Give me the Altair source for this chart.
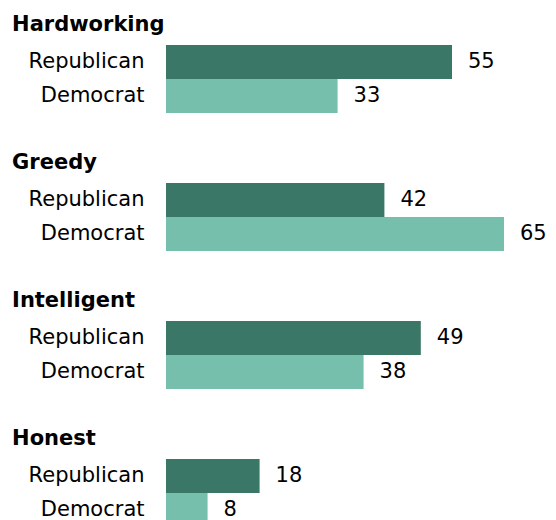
import altair as alt
import pandas as pd

traits = ["Hardworking", "Greedy", "Intelligent", "Honest"]
parties = ["Republican", "Democrat"]
republican = [55, 42, 49, 18]
democrat = [33, 65, 38, 8]
colors = ["#3a7767", "#76bfad"]

rows = []
for t, r, d in zip(traits, republican, democrat):
    rows.append({"trait": t, "party": "Republican", "value": r})
    rows.append({"trait": t, "party": "Democrat", "value": d})
df = pd.DataFrame(rows)

FS = 21
xscale = alt.Scale(domain=[0, 65], nice=False, zero=True)
yscale = alt.Scale(domain=parties, paddingInner=0, paddingOuter=0)
cscale = alt.Scale(domain=parties, range=colors)


def panel(t):
    base = alt.Chart(df).transform_filter(alt.datum.trait == t)
    bars = base.mark_bar().encode(
        x=alt.X("value:Q", scale=xscale, axis=None),
        y=alt.Y("party:N", scale=yscale, sort=parties,
                axis=alt.Axis(title=None, domain=False, ticks=False,
                              labelFontSize=FS, labelPadding=22,
                              labelColor="#000000", labelFont="DejaVu Sans")),
        color=alt.Color("party:N", scale=cscale, legend=None),
    )
    labels = base.mark_text(align="left", baseline="middle", dx=16,
                            fontSize=FS, font="DejaVu Sans", color="#000000").encode(
        x=alt.X("value:Q", scale=xscale),
        y=alt.Y("party:N", scale=yscale, sort=parties),
        text="value:Q",
    )
    return (bars + labels).properties(
        width=338, height=68,
        title=alt.TitleParams(t, anchor="start", frame="bounds", fontSize=FS,
                              font="DejaVu Sans", fontWeight="bold",
                              color="#000000", dx=-16, offset=10),
    )


chart = alt.vconcat(*[panel(t) for t in traits], spacing=39).properties(
    padding={"left": 4, "top": 6, "right": 0, "bottom": 0}
).configure(
    font="DejaVu Sans", view=alt.ViewConfig(stroke=None)
)

chart.save("out.html", embed_options={"renderer": "svg", "actions": False})
